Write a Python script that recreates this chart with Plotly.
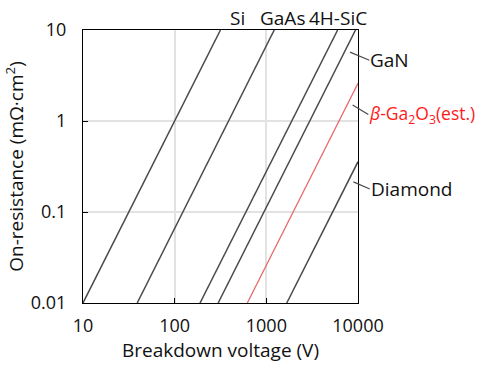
import numpy as np
import plotly.graph_objects as go

# ---- data (endpoints of each straight limit line) ----
materials = ["Si", "GaAs", "4H-SiC", "GaN", "β-Ga2O3 (est.)", "Diamond"]
v_start = [10, 39, 189, 298, 620, 1670]          # breakdown voltage (V) at lower end
v_end = [316, 1220, 6000, 9400, 10000, 10000]    # breakdown voltage (V) at upper end
ron_start = [0.01, 0.01, 0.01, 0.01, 0.01, 0.01]  # on-resistance (mΩ·cm²) at lower end
ron_end = [10, 10, 10, 10, 2.6, 0.357]            # on-resistance (mΩ·cm²) at upper end

x_ticks = [10, 100, 1000, 10000]
x_ticklabels = ["10", "100", "1000", "10000"]
y_ticks = [0.01, 0.1, 1, 10]
y_ticklabels = ["0.01", "0.1", "1", "10"]

FONT = "Open Sans"
GRAY = "#4a4a4a"
RED = "#e76b6b"

fig = go.Figure()
for i, name in enumerate(materials):
    fig.add_trace(go.Scatter(
        x=[v_start[i], v_end[i]], y=[ron_start[i], ron_end[i]],
        mode="lines", name=name, showlegend=False, hoverinfo="skip",
        line=dict(color=RED if i == 4 else GRAY, width=1.3 if i == 4 else 1.5),
    ))


def v_on_line(i, ron):
    lr = np.log10([ron_start[i], ron_end[i]])
    lv = np.log10([v_start[i], v_end[i]])
    return float(np.interp(np.log10(ron), lr, lv))


annotations = []
# labels above the plot
for name, lv in [("Si", np.log10(490)), ("GaAs", np.log10(1490)), ("4H-SiC", np.log10(6000))]:
    annotations.append(dict(x=lv, xref="x", y=1, yref="paper", text=name, showarrow=False,
                            xanchor="center", yanchor="middle", yshift=12,
                            font=dict(family=FONT, size=19, color="#111")))

# labels with leader lines at the right
for idx, ron, text, color, size, ax, ay in [
    (3, 6.0, "GaN", "#111", 19, 24, 10),
    (4, 1.6, "<i>β</i>-Ga<sub>2</sub>O<sub>3</sub>(est.)", "#ff1a1a", 17.5, 20, 12),
    (5, 0.225, "Diamond", "#111", 19, 21, 9),
]:
    annotations.append(dict(
        x=v_on_line(idx, ron), y=np.log10(ron), xref="x", yref="y",
        text=text, showarrow=True, arrowhead=0, arrowwidth=1.2, arrowcolor=GRAY,
        standoff=5, ax=ax, ay=ay, axref="pixel", ayref="pixel",
        xanchor="left", yanchor="middle", borderpad=0,
        font=dict(family=FONT, size=size, color=color),
    ))

axis_common = dict(
    type="log", showline=True, linecolor="black", linewidth=1.2, mirror=True,
    ticks="inside", ticklen=5, tickwidth=1.2, tickcolor="black",
    showgrid=True, gridcolor="#e2e2e2", gridwidth=1.5, zeroline=False,
    tickfont=dict(family=FONT, size=18, color="#111"),
)

fig.update_layout(
    width=481, height=365,
    margin=dict(l=83, r=123, t=30, b=62, autoexpand=False),
    paper_bgcolor="white", plot_bgcolor="white",
    font=dict(family=FONT, color="#111"),
    xaxis=dict(range=[1, 4], tickvals=x_ticks, ticktext=x_ticklabels,
               ticklabelstandoff=6,
               title=dict(text="Breakdown voltage (V)", font=dict(family=FONT, size=19), standoff=4),
               **axis_common),
    yaxis=dict(range=[-2, 1], tickvals=y_ticks, ticktext=y_ticklabels,
               ticklabelstandoff=12,
               title=dict(text="On-resistance (mΩ·cm<sup>2</sup>)", font=dict(family=FONT, size=19), standoff=2),
               **axis_common),
    annotations=annotations,
)

fig.write_html("out.html", config={"displayModeBar": False},
               post_script="document.body.style.margin='0px';document.body.style.overflow='hidden';")
